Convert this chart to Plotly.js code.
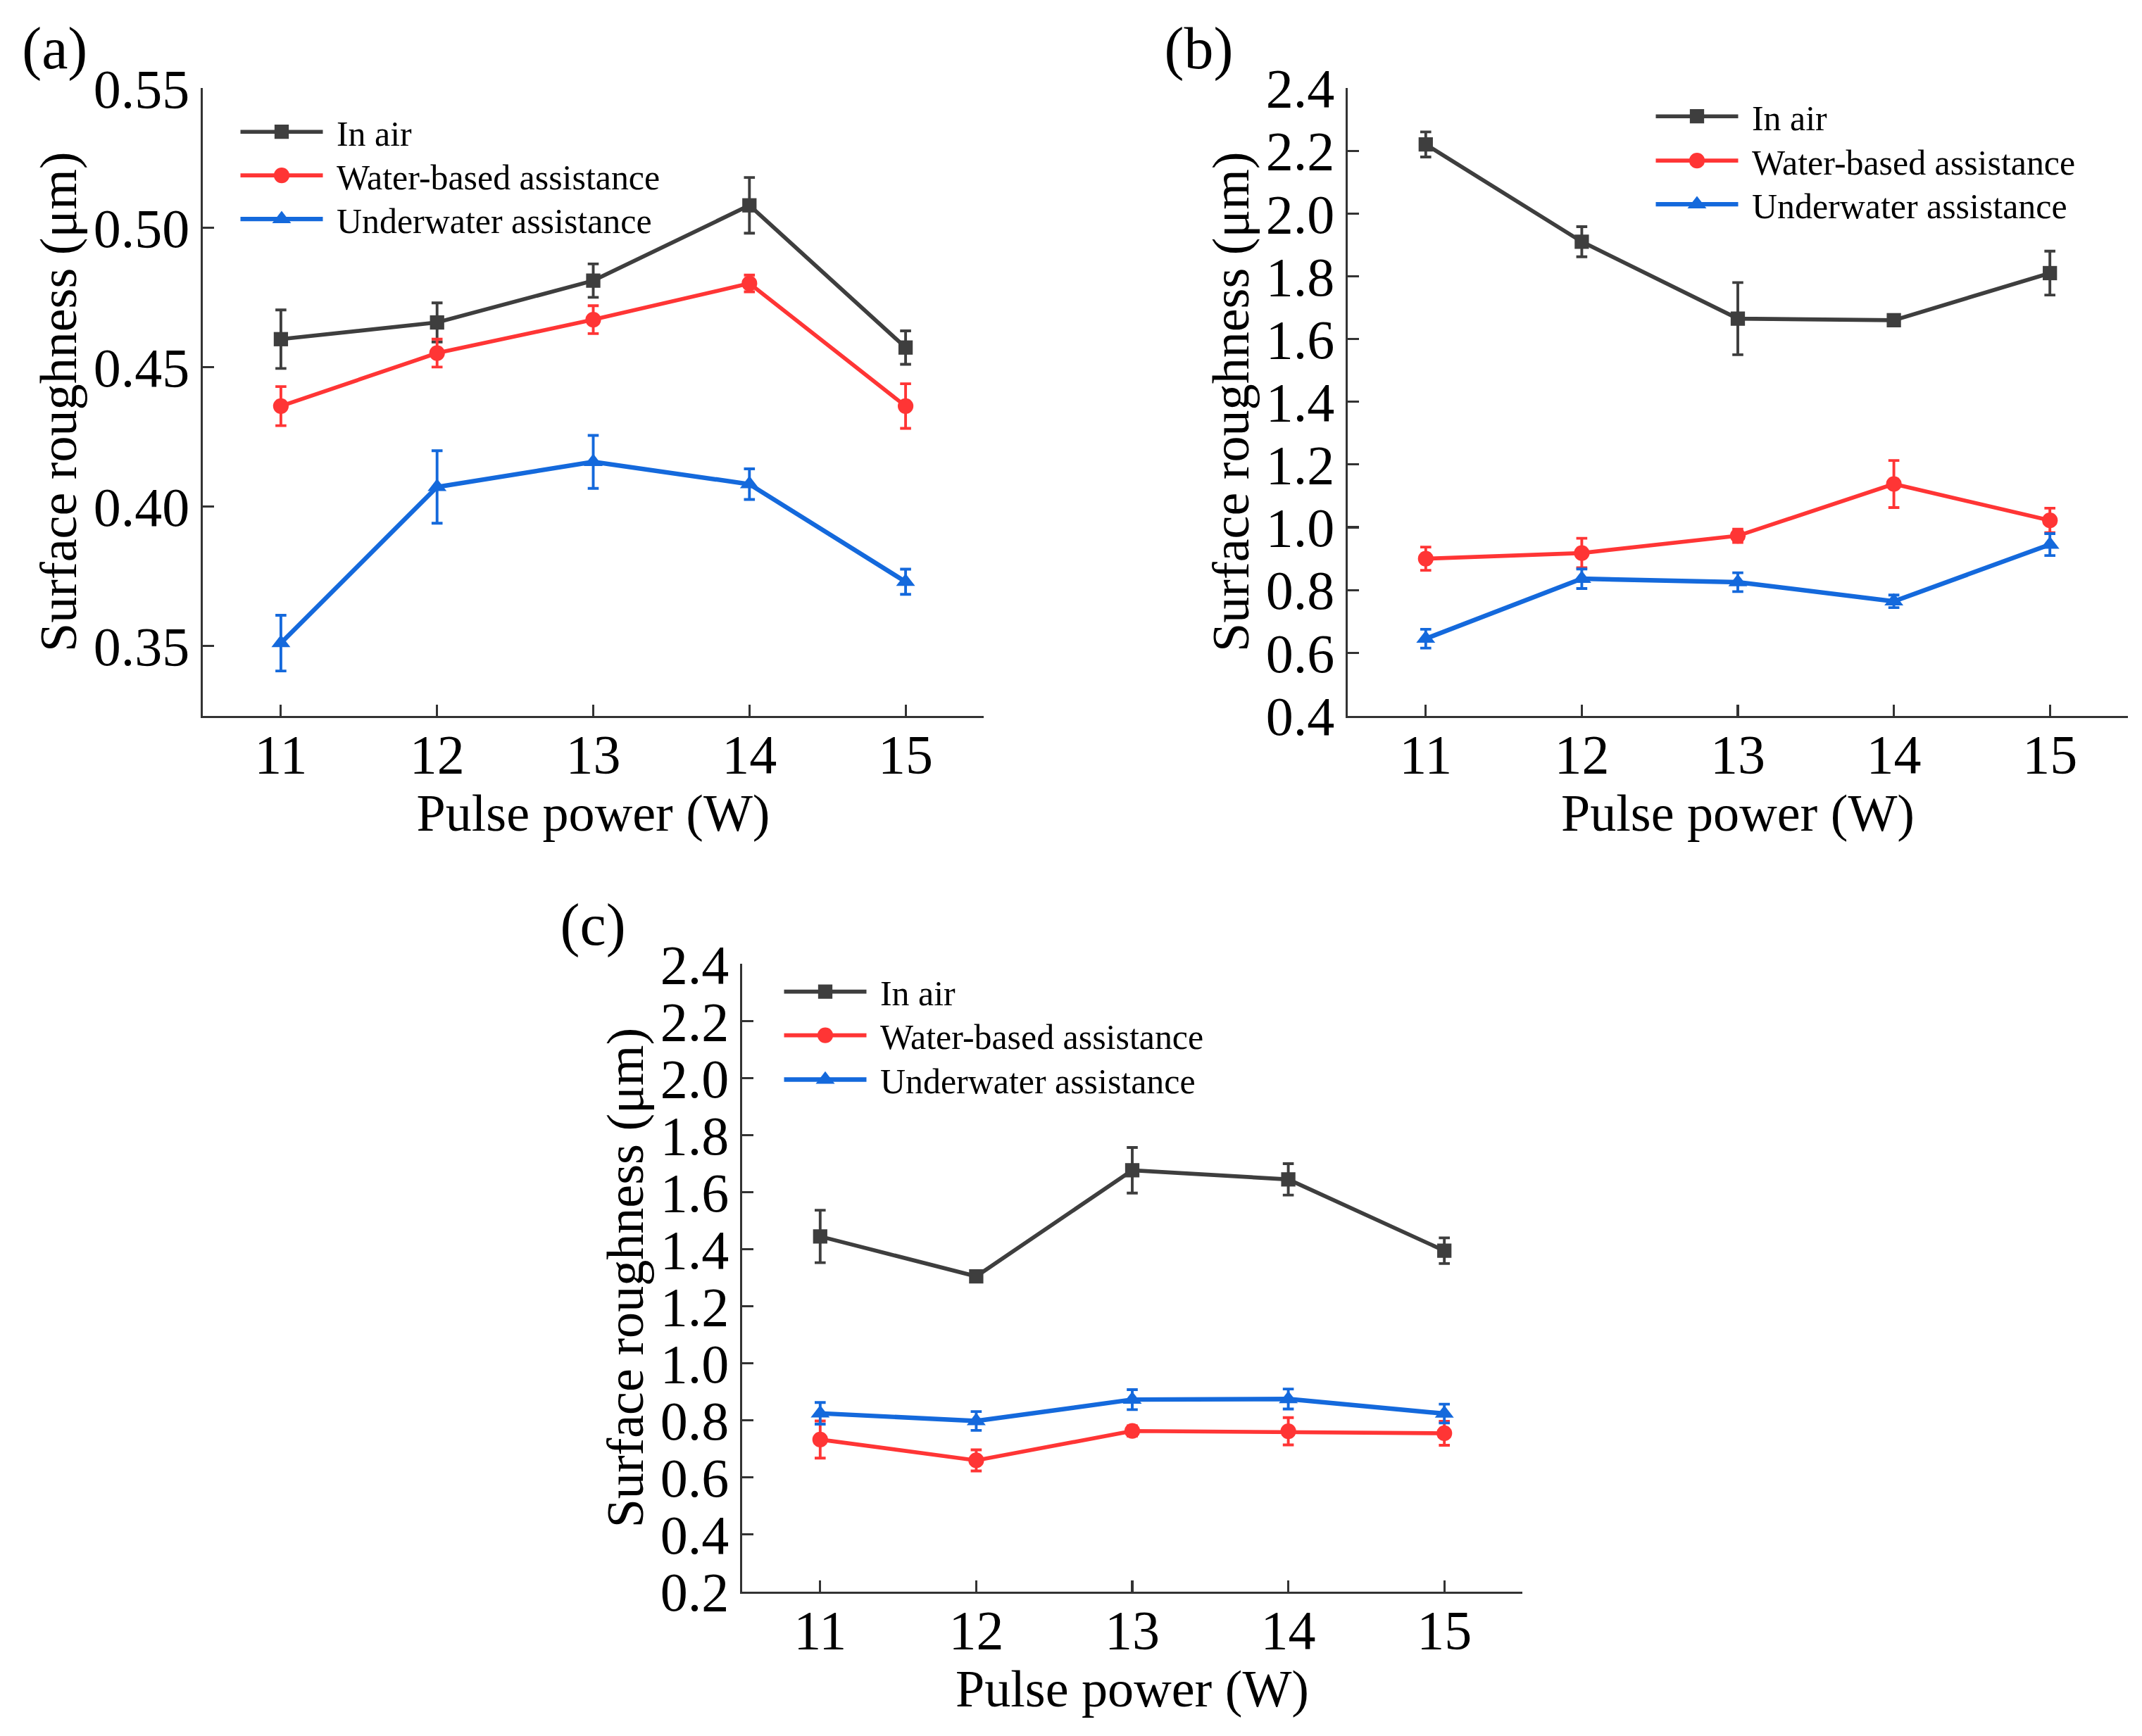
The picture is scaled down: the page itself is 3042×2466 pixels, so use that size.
<!DOCTYPE html>
<html>
<head>
<meta charset="utf-8">
<script src="https://cdn.plot.ly/plotly-3.0.1.min.js"></script>
<style>
html,body{margin:0;padding:0;background:#fff;overflow:hidden;}
#wrap{width:3042px;height:2466px;overflow:hidden;position:relative;}
#plot{transform-origin:0 0;position:absolute;left:0;top:0;}
</style>
</head>
<body>
<div id="wrap"><div id="plot"></div></div>
<script>
// ---------------- data ----------------
const powers = [11, 12, 13, 14, 15];
const seriesNames = ["In air", "Water-based assistance", "Underwater assistance"];

// panel (a)
const aAir = [0.460, 0.466, 0.481, 0.508, 0.457];
const aAirErr = [0.0105, 0.007, 0.006, 0.010, 0.006];
const aWater = [0.436, 0.455, 0.467, 0.480, 0.436];
const aWaterErr = [0.007, 0.005, 0.005, 0.003, 0.008];
const aUnder = [0.351, 0.407, 0.416, 0.408, 0.373];
const aUnderErr = [0.010, 0.013, 0.0095, 0.0055, 0.0045];

// panel (b)
const bAir = [2.22, 1.91, 1.665, 1.66, 1.81];
const bAirErr = [0.04, 0.048, 0.115, 0.015, 0.07];
const bWater = [0.90, 0.918, 0.973, 1.138, 1.022];
const bWaterErr = [0.037, 0.047, 0.021, 0.075, 0.039];
const bUnder = [0.645, 0.836, 0.825, 0.764, 0.945];
const bUnderErr = [0.03, 0.031, 0.03, 0.02, 0.035];

// panel (c)
const cAir = [1.445, 1.305, 1.677, 1.645, 1.395];
const cAirErr = [0.092, 0.012, 0.08, 0.055, 0.045];
const cWater = [0.733, 0.66, 0.763, 0.762, 0.755];
const cWaterErr = [0.065, 0.037, 0.018, 0.048, 0.042];
const cUnder = [0.825, 0.798, 0.873, 0.875, 0.824];
const cUnderErr = [0.038, 0.033, 0.035, 0.035, 0.033];

const panelLabels = ["(a)", "(b)", "(c)"];
const xTitle = "Pulse power (W)";
const yTitle = "Surface roughness (μm)";

// ---------------- styling ----------------
const S = 3.9;                 // render scale
const W = 3042 / S, H = 2466 / S;
const FONT = "Liberation Serif, Times New Roman, serif";
const colors = ["#3e3e3e", "#ff3535", "#1469dc"];
const symbols = ["square", "circle", "triangle-up"];
const msizes = [5.2, 5.7, 6.0];
const lwidths = [1.45, 1.45, 1.65];

function mk(y, err, i, xa, ya, leg) {
  return {
    x: powers, y: y, type: "scatter", mode: "lines+markers",
    name: seriesNames[i], xaxis: xa, yaxis: ya, legend: leg,
    line: {color: colors[i], width: lwidths[i]},
    marker: {color: colors[i], symbol: symbols[i], size: msizes[i], line: {width: 0}},
    error_y: {type: "data", array: err, visible: true, color: colors[i], thickness: 1.0, width: 2.0}
  };
}

const data = [
  mk(aAir, aAirErr, 0, "x", "y", "legend"),
  mk(aWater, aWaterErr, 1, "x", "y", "legend2"),
  mk(aUnder, aUnderErr, 2, "x", "y", "legend3"),
  mk(bAir, bAirErr, 0, "x2", "y2", "legend4"),
  mk(bWater, bWaterErr, 1, "x2", "y2", "legend5"),
  mk(bUnder, bUnderErr, 2, "x2", "y2", "legend6"),
  mk(cAir, cAirErr, 0, "x3", "y3", "legend7"),
  mk(cWater, cWaterErr, 1, "x3", "y3", "legend8"),
  mk(cUnder, cUnderErr, 2, "x3", "y3", "legend9")
];

const axColor = "#333333";
function xax(domain, anchor) {
  return {
    domain: domain, anchor: anchor, range: [10.5, 15.5],
    tickmode: "array", tickvals: powers, ticktext: powers.map(String),
    showline: true, linecolor: axColor, linewidth: 0.8, mirror: false,
    ticks: "inside", ticklen: 4, tickwidth: 0.8, tickcolor: axColor,
    ticklabelstandoff: -4,
    showgrid: false, zeroline: false,
    tickfont: {family: FONT, size: 20, color: "#000"},
    title: {text: xTitle, font: {family: FONT, size: 19, color: "#000"}, standoff: 2}
  };
}
function yax(domain, anchor, range, dtick, fmt, standoff) {
  return {
    domain: domain, anchor: anchor, range: range,
    tick0: 0, dtick: dtick, tickformat: fmt,
    showline: true, linecolor: axColor, linewidth: 0.8, mirror: false,
    ticks: "inside", ticklen: 4, tickwidth: 0.8, tickcolor: axColor,
    showgrid: false, zeroline: false,
    tickfont: {family: FONT, size: 20, color: "#000"},
    title: {text: yTitle, font: {family: FONT, size: 19, color: "#000"}, standoff: standoff}
  };
}
function leg(xo, yo) {
  return {
    x: xo / 3042, y: 1 - yo / 2466, xanchor: "left", yanchor: "middle",
    bgcolor: "rgba(0,0,0,0)", borderwidth: 0,
    font: {family: FONT, size: 12.8, color: "#000"},
    tracegroupgap: 0, itemwidth: 30
  };
}

const topRow = [1 - 1017 / 2466, 1 - 125 / 2466];
const botRow = [1 - 2262 / 2466, 1 - 1370 / 2466];

const layout = {
  width: W, height: H,
  margin: {l: 0, r: 0, t: 0, b: 0, pad: 0},
  paper_bgcolor: "#ffffff", plot_bgcolor: "#ffffff",
  font: {family: FONT, color: "#000"},
  showlegend: true,
  xaxis: xax([288 / 3042, 1397 / 3042], "y"),
  yaxis: yax(topRow, "x", [0.325, 0.5501], 0.05, ".2f", 0),
  xaxis2: xax([1914 / 3042, 3022 / 3042], "y2"),
  yaxis2: yax(topRow, "x2", [0.3999, 2.4001], 0.2, ".1f", 0),
  xaxis3: xax([1054 / 3042, 2162 / 3042], "y3"),
  yaxis3: yax(botRow, "x3", [0.1999, 2.4001], 0.2, ".1f", 0),
  legend: leg(322, 188),
  legend2: leg(322, 250),
  legend3: leg(322, 312),
  legend4: leg(2332, 166),
  legend5: leg(2332, 229),
  legend6: leg(2332, 291),
  legend7: leg(1094, 1410),
  legend8: leg(1094, 1472),
  legend9: leg(1094, 1535),
  annotations: [
    {text: panelLabels[0], x: 78 / 3042, y: 1 - 70 / 2466},
    {text: panelLabels[1], x: 1703 / 3042, y: 1 - 70 / 2466},
    {text: panelLabels[2], x: 842 / 3042, y: 1 - 1313 / 2466}
  ].map(a => Object.assign(a, {xref: "paper", yref: "paper", xanchor: "center", yanchor: "middle",
        showarrow: false, font: {family: FONT, size: 21.5, color: "#000"}}))
};

document.getElementById("plot").style.transform = "scale(" + S + ")";
Plotly.newPlot("plot", data, layout, {displayModeBar: false, staticPlot: true});
</script>
</body>
</html>
